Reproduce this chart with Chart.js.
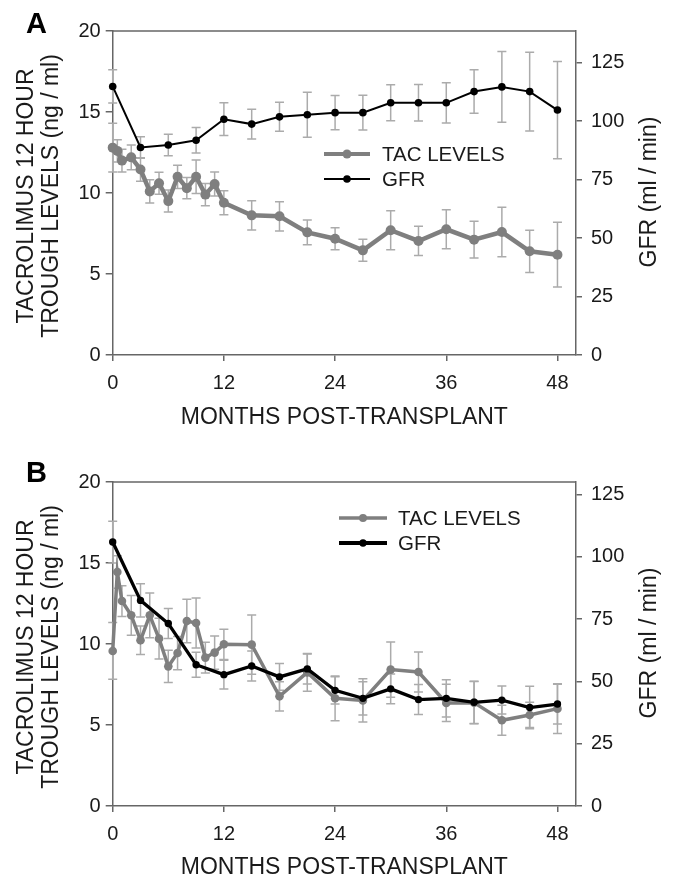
<!DOCTYPE html>
<html lang="en">
<head>
<meta charset="UTF-8" />
<title>Tacrolimus trough levels and GFR</title>
<script src="https://cdn.jsdelivr.net/npm/chart.js"></script>
<style>
  body { margin: 0; background: #fff; }
  .panel { position: absolute; left: 0; width: 674px; }
  #panelA { top: 0; height: 440px; }
  #panelB { top: 440px; height: 438px; }
</style>
</head>
<body>
<div class="panel" id="panelA"><canvas id="chartA" width="674" height="440"></canvas></div>
<div class="panel" id="panelB"><canvas id="chartB" width="674" height="438"></canvas></div>

<script>
// months at which each series was measured
const tacMonths = [0, 0.5, 1, 2, 3, 4, 5, 6, 7, 8, 9, 10, 11, 12, 15, 18, 21, 24, 27, 30, 33, 36, 39, 42, 45, 48];
const gfrMonths = [0, 3, 6, 9, 12, 15, 18, 21, 24, 27, 30, 33, 36, 39, 42, 45, 48];

// panel A
const tacA    = [12.8, 12.6, 12.0, 12.2, 11.45, 10.1, 10.6, 9.5, 11.0, 10.3, 11.0, 9.9, 10.55, 9.4, 8.62, 8.56, 7.57, 7.18, 6.46, 7.7, 7.04, 7.76, 7.12, 7.59, 6.4, 6.19];
const tacAErr = [1.5, 0.68, 0.7, 0.76, 0.72, 0.72, 0.68, 0.68, 0.72, 0.65, 1.03, 0.68, 0.74, 0.74, 0.9, 0.9, 0.76, 0.68, 0.68, 1.2, 0.9, 1.2, 1.13, 1.53, 1.3, 2.0];
const gfrA    = [114.8, 88.7, 89.8, 91.8, 100.8, 98.7, 101.8, 102.7, 103.6, 103.6, 107.8, 107.8, 107.8, 112.6, 114.6, 112.6, 104.7];
const gfrAErr = [7.1, 4.6, 4.6, 5.4, 7.0, 6.4, 6.2, 9.6, 7.3, 7.4, 7.7, 7.8, 8.6, 9.3, 15.1, 16.8, 20.8];

// panel B
const tacB    = [9.57, 14.44, 12.65, 11.77, 10.23, 11.77, 10.33, 8.62, 9.44, 11.42, 11.3, 9.16, 9.47, 9.98, 9.96, 6.77, 8.25, 6.65, 6.52, 8.42, 8.27, 6.36, 6.38, 5.29, 5.62, 6.01];
const tacBErr = [1.75, 1.0, 0.95, 1.23, 0.88, 1.38, 1.26, 1.0, 1.03, 1.34, 1.54, 0.95, 1.03, 0.93, 1.83, 0.9, 1.17, 1.38, 1.34, 1.7, 1.24, 1.15, 1.3, 0.93, 0.78, 1.54];
const gfrB    = [105.9, 82.5, 73.2, 56.7, 52.7, 56.2, 51.8, 55.0, 46.4, 43.2, 47.0, 42.7, 43.2, 41.6, 42.5, 39.5, 40.9];
const gfrBErr = [8.4, 6.7, 6.0, 5.0, 5.8, 6.0, 5.4, 6.0, 5.5, 6.7, 6.0, 6.0, 7.5, 8.5, 5.6, 8.5, 8.0];

// axis ticks
const monthTicks = [0, 12, 24, 36, 48];
const tacTicks = [0, 5, 10, 15, 20];
const gfrTicks = [0, 25, 50, 75, 100, 125];

const FONT = "'Liberation Sans', Arial, sans-serif";
const TAC_COLOR = '#7f7f7f';
const GFR_COLOR = '#000000';
const ERR_COLOR = '#ababab';
const AXIS_COLOR = '#666666';
const TEXT_COLOR = '#1a1a1a';

const toPoints = (xs, ys) => xs.map((x, i) => ({ x: x, y: ys[i] }));

const extrasPlugin = {
  id: 'extras',
  beforeDatasetsDraw(chart) {
    const ctx = chart.ctx;
    const xs = chart.scales.x;
    ctx.save();
    ctx.strokeStyle = ERR_COLOR;
    ctx.lineWidth = 1.5;
    chart.data.datasets.forEach(ds => {
      const ys = chart.scales[ds.yAxisID];
      ds.data.forEach((p, j) => {
        const e = ds.errors[j];
        const x = xs.getPixelForValue(p.x);
        const top = ys.getPixelForValue(p.y + e);
        const bot = ys.getPixelForValue(p.y - e);
        ctx.beginPath();
        ctx.moveTo(x, top); ctx.lineTo(x, bot);
        ctx.moveTo(x - 4.5, top); ctx.lineTo(x + 4.5, top);
        ctx.moveTo(x - 4.5, bot); ctx.lineTo(x + 4.5, bot);
        ctx.stroke();
      });
    });
    ctx.restore();
  },
  afterDraw(chart, args, o) {
    const ctx = chart.ctx;
    const a = chart.chartArea;
    ctx.save();
    // top frame line
    ctx.strokeStyle = AXIS_COLOR;
    ctx.lineWidth = 1.5;
    ctx.beginPath();
    ctx.moveTo(a.left, a.top);
    ctx.lineTo(a.right, a.top);
    ctx.stroke();

    // legend
    o.legend.forEach(item => {
      ctx.strokeStyle = item.color;
      ctx.fillStyle = item.color;
      ctx.lineWidth = item.lineWidth;
      ctx.beginPath();
      ctx.moveTo(o.legendX0, item.y);
      ctx.lineTo(o.legendX1, item.y);
      ctx.stroke();
      ctx.beginPath();
      ctx.arc((o.legendX0 + o.legendX1) / 2, item.y, item.radius, 0, Math.PI * 2);
      ctx.fill();
      ctx.fillStyle = TEXT_COLOR;
      ctx.font = '20.5px ' + FONT;
      ctx.textAlign = 'left';
      ctx.textBaseline = 'middle';
      ctx.fillText(item.label, o.legendTextX, item.y + 1);
    });

    // panel letter
    ctx.fillStyle = '#000';
    ctx.font = 'bold 29px ' + FONT;
    ctx.textAlign = 'left';
    ctx.textBaseline = 'alphabetic';
    ctx.fillText(o.letter, o.letterX, o.letterY);

    // axis titles
    ctx.fillStyle = TEXT_COLOR;
    ctx.font = '23px ' + FONT;
    ctx.textAlign = 'center';
    ctx.textBaseline = 'middle';
    ctx.fillText('MONTHS POST-TRANSPLANT', (a.left + a.right) / 2, o.xTitleY);

    const midY = (a.top + a.bottom) / 2;
    ctx.save();
    ctx.translate(o.yTitleX1, midY + 3);
    ctx.rotate(-Math.PI / 2);
    ctx.fillText('TACROLIMUS 12 HOUR', 0, 0);
    ctx.restore();
    ctx.save();
    ctx.translate(o.yTitleX2, midY + 3);
    ctx.rotate(-Math.PI / 2);
    ctx.fillText('TROUGH LEVELS (ng / ml)', 0, 0);
    ctx.restore();
    ctx.save();
    ctx.translate(o.y1TitleX, midY - 1);
    ctx.rotate(-Math.PI / 2);
    ctx.fillText('GFR (ml / min)', 0, 0);
    ctx.restore();

    ctx.restore();
  }
};

function makeChart(canvasId, cfg) {
  const axisBase = {
    grid: { display: true, drawOnChartArea: false, drawTicks: true, color: AXIS_COLOR, lineWidth: 1.5 },
    border: { display: true, color: AXIS_COLOR, width: 1.5 },
    ticks: { color: TEXT_COLOR, font: { family: FONT, size: 20 } }
  };
  return new Chart(document.getElementById(canvasId), {
    type: 'line',
    data: {
      datasets: [
        {
          label: 'GFR',
          data: toPoints(gfrMonths, cfg.gfr),
          errors: cfg.gfrErr,
          yAxisID: 'y1',
          borderColor: GFR_COLOR,
          backgroundColor: GFR_COLOR,
          borderWidth: cfg.gfrLine,
          pointRadius: cfg.gfrDot,
          pointBorderWidth: 0,
          tension: 0,
          clip: false,
          order: 0
        },
        {
          label: 'TAC LEVELS',
          data: toPoints(tacMonths, cfg.tac),
          errors: cfg.tacErr,
          yAxisID: 'y',
          borderColor: TAC_COLOR,
          backgroundColor: TAC_COLOR,
          borderWidth: cfg.tacLine,
          pointRadius: cfg.tacDot,
          pointBorderWidth: 0,
          tension: 0,
          clip: false,
          order: 1
        }
      ]
    },
    options: {
      responsive: false,
      animation: false,
      layout: { padding: { top: cfg.top, left: 0, right: 0, bottom: 0 } },
      plugins: {
        legend: { display: false },
        tooltip: { enabled: false },
        extras: cfg.extras
      },
      scales: {
        x: {
          ...axisBase,
          type: 'linear',
          min: 0,
          max: 50,
          grid: { ...axisBase.grid, tickLength: 6 },
          ticks: { ...axisBase.ticks, padding: 10, maxRotation: 0 },
          afterBuildTicks: s => { s.ticks = monthTicks.map(v => ({ value: v })); },
          afterFit: s => { s.height = cfg.bottomH; }
        },
        y: {
          ...axisBase,
          position: 'left',
          min: 0,
          max: 20,
          grid: { ...axisBase.grid, tickLength: 7 },
          ticks: { ...axisBase.ticks, padding: 5 },
          afterBuildTicks: s => { s.ticks = tacTicks.map(v => ({ value: v })); },
          afterFit: s => { s.width = 112.7; }
        },
        y1: {
          ...axisBase,
          position: 'right',
          min: 0,
          max: cfg.gfrMax,
          grid: { ...axisBase.grid, tickLength: 6 },
          ticks: { ...axisBase.ticks, padding: 9 },
          afterBuildTicks: s => { s.ticks = gfrTicks.map(v => ({ value: v })); },
          afterFit: s => { s.width = 98; }
        }
      }
    },
    plugins: [extrasPlugin]
  });
}

makeChart('chartA', {
  tac: tacA, tacErr: tacAErr, gfr: gfrA, gfrErr: gfrAErr,
  gfrMax: 138.5, top: 31, bottomH: 85,
  tacLine: 4.5, tacDot: 5, gfrLine: 2, gfrDot: 3.8,
  extras: {
    letter: 'A', letterX: 26, letterY: 33,
    xTitleY: 418, yTitleX1: 27, yTitleX2: 52, y1TitleX: 650,
    legendX0: 324, legendX1: 370, legendTextX: 382,
    legend: [
      { label: 'TAC LEVELS', color: TAC_COLOR, lineWidth: 4, radius: 4.5, y: 154 },
      { label: 'GFR', color: GFR_COLOR, lineWidth: 2, radius: 3.8, y: 179 }
    ]
  }
});

makeChart('chartB', {
  tac: tacB, tacErr: tacBErr, gfr: gfrB, gfrErr: gfrBErr,
  gfrMax: 130, top: 42, bottomH: 72,
  tacLine: 3.5, tacDot: 4.3, gfrLine: 3.3, gfrDot: 3.7,
  extras: {
    letter: 'B', letterX: 26, letterY: 42,
    xTitleY: 428, yTitleX1: 27, yTitleX2: 52, y1TitleX: 650,
    legendX0: 339, legendX1: 387, legendTextX: 398,
    legend: [
      { label: 'TAC LEVELS', color: TAC_COLOR, lineWidth: 3.3, radius: 4, y: 78 },
      { label: 'GFR', color: GFR_COLOR, lineWidth: 3.8, radius: 3.7, y: 103 }
    ]
  }
});
</script>
</body>
</html>
